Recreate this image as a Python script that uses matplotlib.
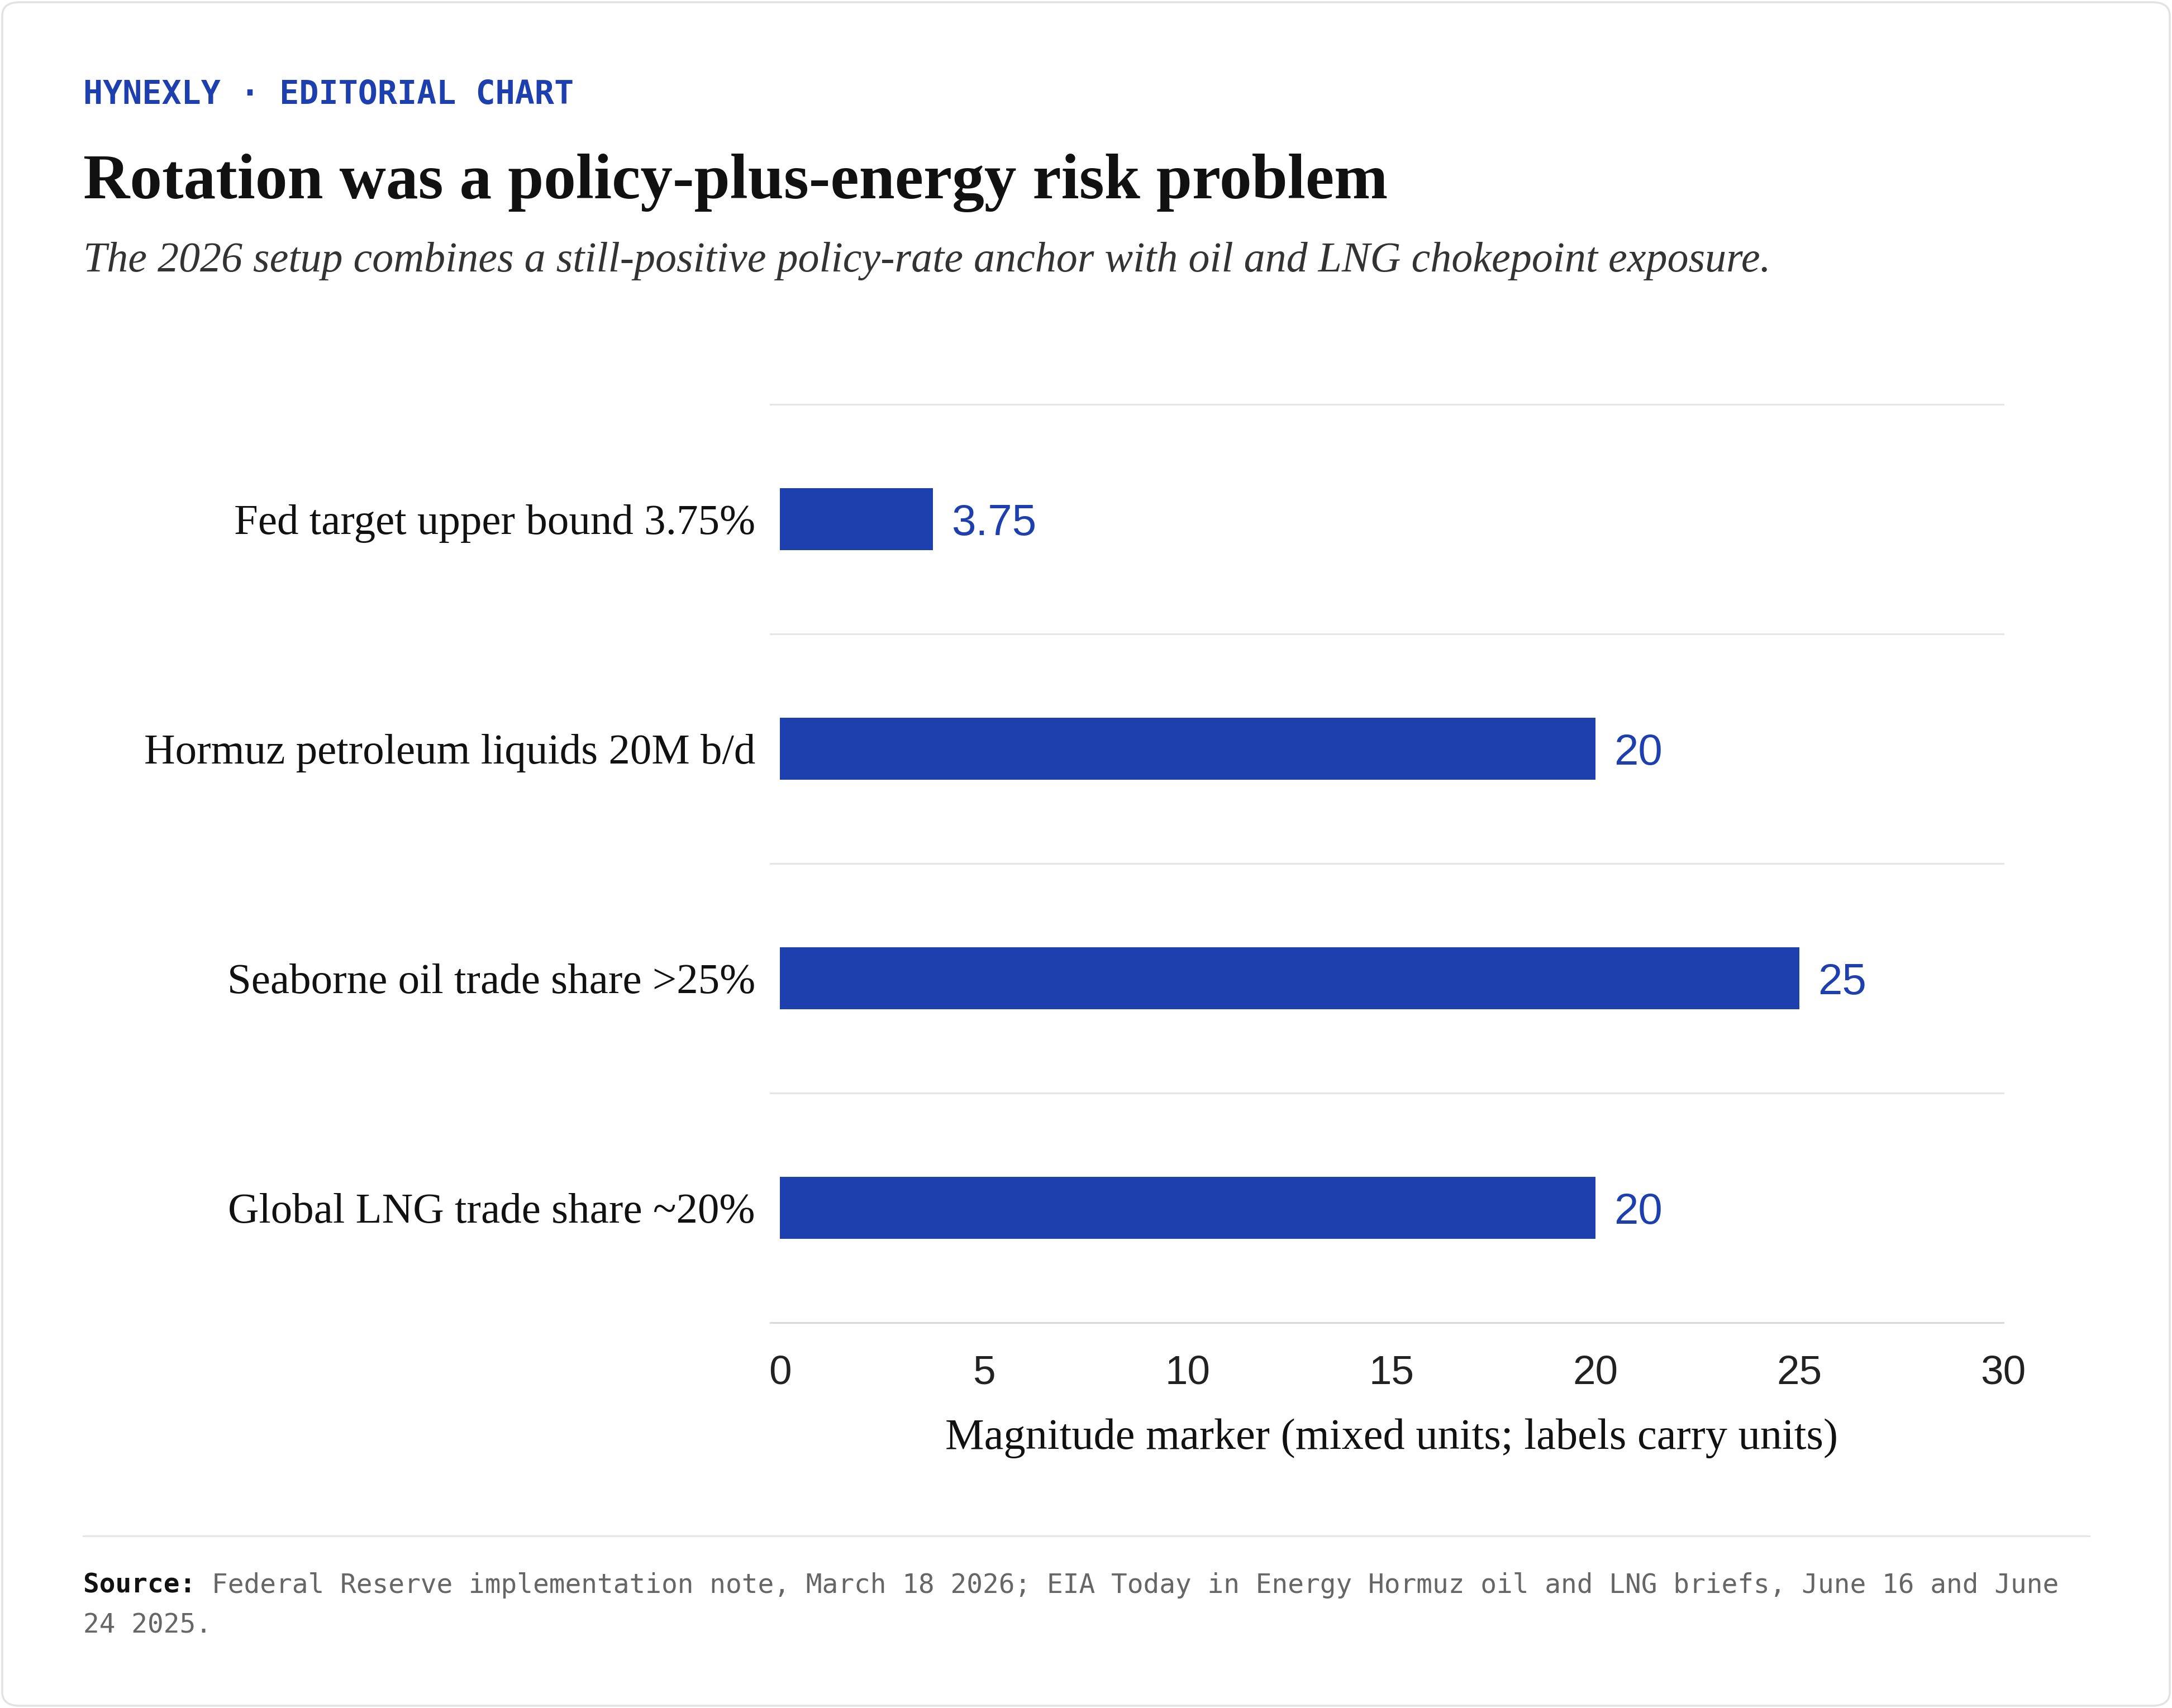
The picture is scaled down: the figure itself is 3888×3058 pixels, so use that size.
import matplotlib
matplotlib.use("Agg")
import matplotlib.pyplot as plt
from matplotlib.patches import FancyBboxPatch
from matplotlib.lines import Line2D

# ---------------- data ----------------
categories = [
    "Fed target upper bound 3.75%",
    "Hormuz petroleum liquids 20M b/d",
    "Seaborne oil trade share >25%",
    "Global LNG trade share ~20%",
]
values = [3.75, 20, 25, 20]
value_labels = ["3.75", "20", "25", "20"]
x_ticks = [0, 5, 10, 15, 20, 25, 30]

kicker = "HYNEXLY · EDITORIAL CHART"
title = "Rotation was a policy-plus-energy risk problem"
subtitle = "The 2026 setup combines a still-positive policy-rate anchor with oil and LNG chokepoint exposure."
xlabel = "Magnitude marker (mixed units; labels carry units)"
source_head = "Source:"
source_line1 = "Federal Reserve implementation note, March 18 2026; EIA Today in Energy Hormuz oil and LNG briefs, June 16 and June"
source_line2 = "24 2025."

# ---------------- style ----------------
BLUE = "#1e40af"
INK = "#111111"
GREY_TXT = "#666666"
GRID = "#e6e6e6"
SERIF = "Liberation Serif"
SANS = "Liberation Sans"
MONO = "DejaVu Sans Mono"

W, H = 3888, 3058
DPI = 250
fig = plt.figure(figsize=(W / DPI, H / DPI), dpi=DPI)
fig.patch.set_facecolor("white")


def fx(x):
    return x / W


def fy(y):
    return 1 - y / H


renderer = fig.canvas.get_renderer()


def fit(t, target_w):
    bb = t.get_window_extent(renderer=renderer)
    t.set_fontsize(t.get_fontsize() * target_w / bb.width)


# border
border = FancyBboxPatch((fx(4), fy(3054)), fx(3880), 3050 / H,
                        boxstyle="round,pad=0,rounding_size=0.008",
                        transform=fig.transFigure, facecolor="none",
                        edgecolor="#e2e2e2", linewidth=1.0, zorder=0)
fig.patches.append(border)

# header texts
t = fig.text(fx(149), fy(186), kicker, family=MONO, weight="bold", color=BLUE,
             fontsize=16, va="baseline", ha="left")
fit(t, 878)
t = fig.text(fx(149), fy(355), title, family=SERIF, weight="bold", color=INK,
             fontsize=36, va="baseline", ha="left")
fit(t, 2336)
t = fig.text(fx(149), fy(486), subtitle, family=SERIF, style="italic", color="#333333",
             fontsize=20, va="baseline", ha="left")
fit(t, 3020)

# ---------------- axes ----------------
ax_l, ax_r, ax_t, ax_b = 1396, 3586, 724, 2368
ax = fig.add_axes([fx(ax_l), fy(ax_b), (ax_r - ax_l) / W, (ax_b - ax_t) / H])
ax.set_facecolor("none")
ypos = list(range(len(categories)))
ax.barh(ypos, values, height=0.27, color=BLUE, zorder=3)
ax.set_xlim(0, 30)
ax.set_ylim(len(categories) - 0.5, -0.5)

for sp in ax.spines.values():
    sp.set_visible(False)

ext = -17 / (ax_r - ax_l)
for b in [i - 0.5 for i in range(len(categories) + 1)]:
    col = "#d9d9d9" if b == len(categories) - 0.5 else GRID
    ax.axhline(b, xmin=ext, xmax=1, color=col, linewidth=0.9, clip_on=False, zorder=1)

ax.set_yticks(ypos)
ax.set_yticklabels(categories, family=SERIF, color=INK, fontsize=22)
ax.tick_params(axis="y", length=0, pad=12.7)
ax.set_xticks(x_ticks)
ax.set_xticklabels([str(v) for v in x_ticks], family=SANS, color="#222222", fontsize=21)
ax.tick_params(axis="x", length=0, pad=16.5)

# fit category labels to widest
fig.canvas.draw()
widths = [lab.get_window_extent(renderer=renderer).width for lab in ax.get_yticklabels()]
scale = 1096 / max(widths)
for lab in ax.get_yticklabels():
    lab.set_fontsize(lab.get_fontsize() * scale)

for y, v, lab in zip(ypos, values, value_labels):
    ax.annotate(lab, xy=(v, y), xytext=(33 * 72 / DPI, 0), textcoords="offset points",
                ha="left", va="center_baseline", family=SANS, color=BLUE, fontsize=22.5)

t = fig.text(fx((ax_l + ax_r) / 2), fy(2594), xlabel, family=SERIF, color=INK,
             fontsize=22, ha="center", va="baseline")
fit(t, 1597)

# separator
fig.add_artist(Line2D([fx(149), fx(3740)], [fy(2750), fy(2750)], transform=fig.transFigure,
                      color="#e5e5e5", linewidth=0.9))

# source (monospace: measure char width, then place pieces side by side)
full1 = source_head + " " + source_line1
probe = fig.text(0, 0, full1, family=MONO, fontsize=14)
pw = probe.get_window_extent(renderer=renderer).width
probe.remove()
fs = 14 * 3539 / pw
char_w = 3539 / len(full1)
fig.text(fx(149), fy(2852), source_head, family=MONO, weight="bold", color=INK,
         fontsize=fs, ha="left", va="baseline")
fig.text(fx(149 + char_w * (len(source_head) + 1)), fy(2852), source_line1, family=MONO,
         color=GREY_TXT, fontsize=fs, ha="left", va="baseline")
fig.text(fx(149), fy(2924), source_line2, family=MONO, color=GREY_TXT, fontsize=fs,
         ha="left", va="baseline")

fig.savefig("out.png", dpi=DPI, facecolor="white")
